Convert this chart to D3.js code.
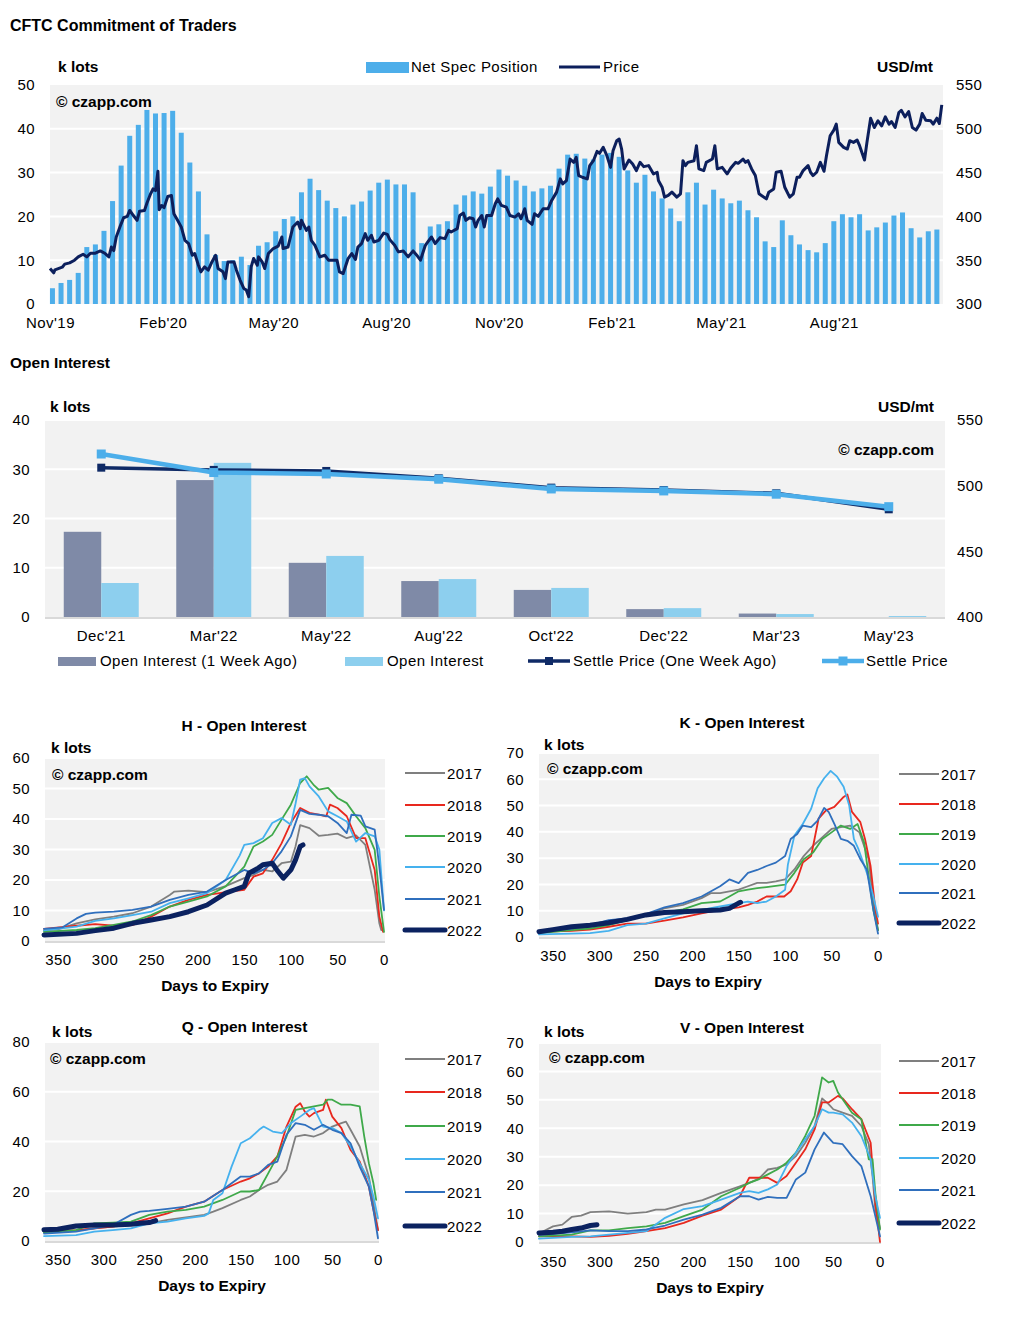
<!DOCTYPE html>
<html><head><meta charset="utf-8">
<script src="https://cdn.jsdelivr.net/npm/d3@7"></script>
<style>body{margin:0;background:#fff}svg{display:block}</style>
</head><body><svg id="c" width="1010" height="1318"></svg>
<script>
// ---------------- DATA ----------------
// Chart 1: CFTC Commitment of Traders
const netSpecStart = '2019-11-03';           // first weekly report
const netSpec = [3.6,4.8,5.5,7.1,13.0,13.6,16.7,23.5,31.6,38.4,40.9,44.3,43.5,43.6,44.1,39.1,32.3,25.7,15.9,11.2,9.8,10.0,10.8,8.9,13.3,14.1,16.6,19.4,20.0,25.5,28.6,26.0,23.6,21.9,20.0,
22.7,23.4,25.9,27.7,28.4,27.3,27.3,25.5,13.9,17.7,18.2,18.9,22.7,24.8,25.7,25.2,26.8,30.7,29.3,28.2,27.0,25.7,26.4,27.0,30.9,34.1,34.3,33.2,33.0,34.1,34.5,33.6,30.5,27.7,29.5,
25.7,24.1,21.8,18.9,25.5,27.7,22.7,26.1,24.1,23.0,23.6,21.4,19.8,14.3,13.0,19.1,15.7,13.6,12.3,11.8,13.9,18.9,20.5,19.8,20.5,16.8,17.5,18.6,20.2,20.9,17.3,15.2,16.6,17.0];
const priceStart = '2019-11-01';
// [days since priceStart, USD/mt]
const priceSeries = [[0,340.5],[3,335.6],[4,339],[10,342],[12,345.5],[16,347],[20,350],[23,353.8],[27,356.8],[30,353.8],[33,358],[37,358],[41,360.6],[45,357.6],[48,353.8],[50,365],[52,361],[54,376.5],[57,388],[60,398.5],[63,400],[65,406.8],[68,401],[71,395.5],[73,406],[77,406.8],[79,415],[82,425.8],[84,431.4],[86,429.5],[88,451.5],[89,407.6],[91,412.5],[93,410],[96,422.7],[99,423.9],[101,403],[104,395.5],[107,388],[110,372.7],[113,369],[116,355.7],[118,357.6],[121,344.3],[123,336.7],[126,342.4],[129,338.6],[132,348],[135,355.7],[137,340.5],[141,336.7],[143,329],[145,348],[150,348],[152,338.6],[155,327],[158,317.8],[160,316],[162,308.3],[164,342.4],[166,351.9],[169,344.3],[170,353.8],[173,348],[175,340.5],[178,357.6],[182,363.3],[186,366],[189,376.5],[190,363.3],[194,365],[198,387.9],[202,393.6],[204,386],[205,395.5],[209,384],[211,387.9],[213,372.7],[216,367],[220,353.8],[224,355.7],[227,350],[234,350],[236,336.7],[239,334.8],
[243,351.9],[246,357.6],[249,350.8],[251,365],[254,369],[257,380.3],[259,372.7],[262,378.4],[264,370.8],[268,372.7],[272,381],[275,379.5],[277,373.5],[281,367],[284,359.5],[288,360.6],[292,353.8],[296,360.6],[299,355.7],[302,350],[306,367],[308,370.8],[311,376.5],[314,369],[318,375.8],[322,374.6],[325,384],[327,382.2],[332,386],[334,401],[337,403.8],[339,395.5],[342,398.5],[345,397.3],[347,387.9],[349,395.5],[352,401],[354,387.9],[356,401],[360,401],[363,414.4],[365,420],[368,412.5],[372,410.6],[375,401],[379,399.2],[382,403],[384,397.3],[387,408.7],[389,395.5],[393,390.9],[395,403],[398,400],[402,408.7],[406,408.7],[409,418.2],[413,427.7],[416,442.8],[418,437.1],[421,440.9],[424,465.5],[427,461.7],[429,467.4],[431,446.6],[434,444.7],[438,442.8],[440,458],[443,463.6],[446,474.2],[448,472],[451,478.8],[454,469.3],[457,456],[459,475],[462,486.4],[464,488.3],[466,476.9],[468,454.2],[472,464.4],[475,459.8],[478,452.3],[481,461.7],[484,456.8],
[488,458],[492,448.5],[495,450.4],[496,440.9],[499,433.3],[501,422],[504,423.9],[507,427.7],[511,422],[514,425.8],[516,463.6],[518,458],[520,461.7],[525,463.6],[527,480.7],[529,454.2],[533,452.3],[535,461.7],[540,465.5],[542,480.7],[544,454.2],[548,456],[552,448.5],[555,455.3],[559,461.7],[561,460.6],[565,465.5],[567,461.7],[569,463.6],[572,454.2],[575,446.6],[578,425.8],[580,423.9],[584,420],[586,427.7],[590,431.4],[592,450.4],[596,451.5],[599,433.3],[603,422],[606,425.8],[609,444.7],[611,444.7],[614,452.3],[618,458],[620,450.4],[622,446.6],[625,450.4],[628,461.7],[631,451.5],[633,469.3],[636,492],[639,498.5],[641,505.3],[643,484.5],[647,478.8],[650,476.9],[652,486.4],[655,484.5],[658,487.1],[660,480.7],[664,464.4],[666,484.5],[669,512.1],[672,501.5],[675,509.1],[678,503.4],[681,513.6],[684,505.3],[686,508.3],[689,501.5],[692,518.6],[694,521.2],[697,513.6],[700,519.7],[703,501.5],[706,498.5],[709,505.3],[711,517.4],[714,509.8],[718,509.1],[720,505.3],[723,512.1],[725,506],[727,527.3]];
const netTicks = [0,10,20,30,40,50];
const priceTicks = [300,350,400,450,500,550];
const monthTicks = ['2019-11-01','2020-02-01','2020-05-01','2020-08-01','2020-11-01','2021-02-01','2021-05-01','2021-08-01'];

// Chart 2: Open Interest by contract
const oiContracts = ["Dec'21","Mar'22","May'22","Aug'22","Oct'22","Dec'22","Mar'23","May'23"];
const oiWeekAgo = [17.3,27.8,11.0,7.3,5.5,1.6,0.7,0];
const oiNow = [6.9,31.3,12.4,7.7,5.9,1.8,0.6,0.2];
const settleWeekAgo = [513.7,512.0,511.2,505.6,498.5,496.7,494.2,482.0];
const settleNow = [524.1,510.0,508.9,504.9,497.5,496.0,493.5,484.0];
const oiTicks = [0,10,20,30,40];
const settleTicks = [400,450,500,550];

// Small charts: [days to expiry, k lots]
const years = ['2017','2018','2019','2020','2021','2022'];
const dayTicks = [350,300,250,200,150,100,50,0];
const H2017 = [[365,3.5],[350,3.8],[330,5.8],[310,7.1],[290,8.0],[270,9.1],[250,11.3],[230,15.1],[225,16.2],[210,16.5],[190,16.0],[170,18.0],[150,20.6],[140,21.7],[130,23.3],[120,22.8],[110,25.5],[100,26.0],[95,31],[90,38],[80,37],[70,34.5],[60,34.8],[50,35.2],[40,33.7],[30,34.6],[20,31.5],[10,16.8],[5,5.8],[3,3.6]];
const H2018 = [[365,4.0],[330,5.0],[310,5.5],[290,5.0],[270,5.2],[250,8.0],[230,11.3],[210,13.5],[190,15.1],[180,15.5],[170,16.0],[150,16.8],[140,21.1],[130,22.2],[120,26.6],[110,32.0],[100,38.7],[90,43.6],[80,42.0],[70,41.4],[62,40.9],[58,44.7],[50,43.6],[40,40.9],[30,33.7],[20,33.7],[10,23.3],[5,8.0],[1,3.0]];
const H2019 = [[365,3.0],[330,3.6],[310,4.2],[290,5.3],[270,6.4],[250,8.5],[230,11.3],[210,12.9],[190,14.6],[170,17.9],[150,24.4],[140,31.0],[130,32.6],[120,34.8],[110,39.8],[100,44.7],[90,51.8],[83,54.0],[75,51.0],[70,49.6],[60,50.2],[50,46.9],[40,45.2],[30,40.9],[20,37.0],[10,29.9],[5,14.6],[0,3.0]];
const H2020 = [[365,3.5],[330,4.7],[310,6.6],[290,7.4],[270,8.5],[250,9.6],[230,12.4],[210,14.0],[190,15.7],[170,20.0],[155,28],[150,31.5],[140,32.1],[130,33.7],[120,38.7],[110,40.3],[100,38.1],[95,45],[90,52.9],[85,53.4],[80,50.7],[70,47.4],[60,42.5],[50,40.9],[40,39.2],[30,32.6],[20,35.4],[10,34.3],[5,30.0],[0,10.0]];
const H2021 = [[365,4.0],[345,4.5],[330,7.4],[320,8.9],[310,9.3],[290,9.6],[270,10.2],[250,11.3],[230,13.5],[210,15.1],[190,16.2],[170,20.0],[150,23.3],[140,22.2],[130,23.3],[120,25.5],[110,29.4],[100,34.3],[90,43.0],[80,41.7],[70,41.4],[60,40.9],[50,38.7],[40,35.4],[35,41.4],[25,41.1],[20,37.6],[10,36.5],[5,24.4],[0,10.2]];
const H2022 = [[365,2.0],[330,2.5],[310,3.4],[290,4.2],[270,5.8],[250,6.9],[230,8.0],[210,9.6],[190,11.8],[170,15.7],[160,16.8],[150,17.9],[145,22.2],[135,23.9],[130,25.0],[120,25.5],[115,23.3],[108,20.6],[100,23.3],[95,26.6],[90,31.0],[87,31.5]];

const K2017 = [[365,2.0],[330,2.6],[310,3.9],[290,5.1],[270,7.1],[250,8.4],[230,10.9],[210,12.2],[190,14.8],[180,16.7],[170,16.7],[150,18.0],[140,19.3],[130,20.6],[120,20.6],[110,21.2],[100,21.9],[90,25.7],[80,30.8],[70,34.7],[60,37.9],[50,41.1],[40,41.8],[30,42.4],[20,39.8],[10,29.6],[5,12.9],[0,2.6]];
const K2018 = [[365,2.0],[330,2.3],[310,2.8],[290,3.9],[270,5.1],[250,5.1],[230,6.2],[210,7.5],[190,9.0],[170,10.3],[150,11.3],[140,12.2],[130,13.5],[120,15.4],[110,15.4],[101,15.4],[94,17.4],[87,21.9],[81,28.3],[72,30.8],[64,45.0],[56,48.2],[47,49.5],[37,53.3],[33,54.2],[28,47.6],[19,43.7],[14,37.3],[8,27.0],[3,11.0],[0,5.1]];
const K2019 = [[365,1.5],[330,2.6],[310,3.2],[290,4.5],[270,6.4],[250,8.0],[230,9.3],[210,10.5],[190,12.9],[170,13.5],[160,15.4],[150,17.4],[140,18.0],[130,18.6],[120,19.0],[100,19.9],[90,24.4],[80,29.6],[70,32.1],[60,37.3],[50,39.8],[40,42.4],[30,41.1],[22,43.0],[15,36.0],[10,23.1],[5,10.3],[0,2.6]];
const K2020 = [[365,1.0],[330,1.3],[310,1.5],[290,2.3],[270,4.5],[250,5.1],[230,7.1],[210,9.0],[190,10.3],[170,11.6],[150,12.9],[140,13.5],[130,12.9],[120,13.5],[110,15.4],[100,18.0],[97,27.6],[90,38.6],[81,43.0],[72,48.8],[65,56.6],[58,60.4],[51,63.2],[44,61.0],[37,57.2],[31,50.0],[26,37.3],[21,33.4],[12,24.4],[5,15.4],[0,7.7]];
const K2021 = [[365,2.0],[330,3.2],[310,4.5],[290,6.4],[270,7.1],[250,8.7],[230,11.3],[210,12.9],[190,15.4],[170,19.3],[160,21.9],[150,20.5],[140,24.4],[130,25.5],[120,27.0],[110,28.3],[100,30.8],[94,37.3],[87,39.2],[81,42.4],[72,41.8],[65,44.3],[58,49.1],[53,47.5],[47,43.0],[40,37.3],[33,36.6],[26,34.7],[19,29.6],[12,25.7],[5,10.3],[0,1.3]];
const K2022 = [[365,2.0],[350,2.8],[330,3.9],[310,4.5],[290,5.4],[270,6.7],[250,8.4],[230,9.3],[210,9.6],[190,10.0],[170,10.3],[160,10.9],[150,12.9],[148,13.2]];

const Q2017 = [[365,3.5],[330,4.2],[310,5.1],[290,5.8],[270,6.4],[250,7.1],[230,8.5],[210,9.5],[190,10.5],[180,11.8],[170,13.2],[150,16.5],[140,17.9],[130,20.5],[120,22.6],[110,23.9],[100,28.6],[90,42.0],[80,42.7],[70,42.0],[60,43.4],[50,46.0],[40,47.4],[35,48.0],[30,44.7],[20,38.0],[10,25.9],[5,15.2],[0,4.4]];
const Q2018 = [[365,4.0],[330,4.4],[310,5.1],[290,5.8],[270,7.1],[250,9.1],[230,11.1],[210,13.8],[190,15.8],[170,20.5],[150,23.9],[140,25.2],[130,27.2],[120,29.9],[110,34.0],[100,46.0],[90,54.0],[85,55.4],[80,52.0],[75,50.0],[70,51.4],[60,52.7],[57,56.8],[50,50.0],[40,45.4],[30,36.6],[20,31.9],[10,21.9],[5,12.5],[0,4.4]];
const Q2019 = [[365,3.5],[330,4.4],[310,7.1],[290,7.4],[270,7.8],[250,10.5],[230,11.8],[210,12.5],[190,13.8],[170,16.5],[150,19.9],[140,19.9],[130,20.5],[120,27.2],[110,34.0],[100,42.0],[90,52.7],[80,53.4],[70,54.1],[60,54.8],[55,56.8],[50,56.8],[40,54.8],[30,54.8],[20,54.1],[15,42.0],[10,31.3],[5,23.2],[2,16.5]];
const Q2020 = [[365,2.0],[330,2.4],[310,3.8],[290,4.4],[270,5.1],[250,7.1],[230,7.8],[210,9.1],[190,10.1],[185,11.1],[180,16.5],[170,19.2],[160,29.9],[150,39.3],[140,41.3],[130,44.7],[125,46.0],[115,44.0],[105,43.4],[95,47.4],[85,50.0],[75,52.7],[70,53.4],[60,46.0],[50,45.4],[40,43.4],[30,38.0],[20,31.3],[10,24.6],[5,17.9],[0,9.1]];
const Q2021 = [[365,3.0],[330,3.8],[310,5.1],[290,6.4],[270,10.5],[260,11.8],[250,12.1],[230,12.9],[210,13.8],[190,15.8],[170,20.5],[150,25.9],[140,25.9],[130,27.2],[120,30.6],[110,31.9],[100,42.7],[90,47.4],[80,46.7],[70,44.7],[60,46.7],[50,44.7],[40,43.4],[30,39.3],[20,29.9],[10,21.9],[5,12.5],[0,1.1]];
const Q2022 = [[365,4.5],[350,4.7],[330,6.0],[310,6.4],[290,6.4],[270,6.7],[260,7.1],[250,7.4],[243,8.2]];

const V2017 = [[365,3.0],[350,5.5],[340,6.1],[330,8.8],[320,9.3],[310,10.5],[290,10.8],[270,10.0],[250,10.5],[240,11.4],[230,11.4],[210,13.2],[190,14.7],[170,17.3],[150,19.6],[140,20.8],[130,22.2],[120,25.5],[110,26.1],[100,27.3],[90,30.2],[80,34.9],[70,40.8],[62,50.5],[55,48.5],[50,46.7],[40,45.5],[30,44.4],[20,40.8],[12,34.4],[8,23.2],[5,11.4],[0,4.9]];
const V2018 = [[365,2.0],[330,2.0],[310,1.8],[290,2.2],[270,2.9],[250,3.8],[230,4.9],[210,6.7],[190,9.3],[170,11.4],[150,16.1],[140,22.6],[130,22.6],[120,22.6],[110,20.8],[100,23.2],[90,27.9],[80,32.6],[70,39.6],[62,49.1],[55,49.1],[45,51.4],[40,50.5],[30,46.7],[20,43.2],[10,34.9],[5,13.8],[0,0]];
const V2019 = [[365,2.0],[330,2.6],[310,4.1],[290,4.1],[270,4.9],[250,5.5],[230,6.7],[210,9.1],[190,11.4],[170,16.1],[150,19.1],[140,20.8],[130,22.0],[120,23.8],[110,25.5],[100,27.9],[90,31.4],[80,37.3],[70,44.4],[62,57.9],[55,56.1],[50,56.7],[45,52.6],[40,50.2],[30,45.5],[20,43.2],[12,29.1],[8,29.1],[5,17.3],[0,4.4]];
const V2020 = [[365,1.2],[330,1.8],[310,2.0],[290,2.6],[270,3.2],[250,3.8],[230,8.5],[210,11.6],[190,12.6],[170,14.9],[150,17.3],[140,17.9],[130,17.3],[120,18.5],[110,20.2],[100,26.7],[90,31.4],[80,36.1],[70,40.8],[62,46.7],[55,45.5],[50,45.5],[40,44.9],[30,42.0],[20,37.3],[10,29.1],[5,16.1],[0,8.5]];
const V2021 = [[365,2.5],[330,3.4],[310,4.1],[290,3.8],[270,3.8],[250,4.4],[230,5.8],[210,7.9],[190,9.6],[170,12.0],[150,16.1],[140,16.1],[130,14.9],[120,15.9],[110,15.5],[100,15.5],[90,22.0],[80,24.4],[70,32.6],[60,38.5],[50,34.9],[40,34.4],[30,30.2],[20,26.7],[10,16.1],[5,9.1],[0,2.0]];
const V2022 = [[365,3.2],[350,3.4],[340,3.8],[330,4.4],[320,4.9],[310,5.8],[303,6.1]];

// ---------------- DRAWING ----------------
const FONT = '"Liberation Sans", Arial, Helvetica, sans-serif';
const BG = '#f2f2f2';
const BLUE = '#4daeea';
const NAVY = '#0c1f5c';
const yearColors = ['#7f7f7f','#e8281e','#3fa94a','#45b1ee','#2f6fbd','#0b2260'];
const DAY = 864e5;
const LS = 0.45;   // letter spacing of regular text
const svg = d3.select('#c');

function label(x, y, s, o = {}) {
  return svg.append('text').attr('x', x).attr('y', y).text(s)
    .attr('font-family', FONT).attr('font-size', o.size || 15)
    .attr('font-weight', o.bold ? 'bold' : 'normal')
    .attr('letter-spacing', o.bold ? 0 : LS)
    .attr('text-anchor', o.anchor || 'start').attr('fill', '#000');
}
function styleAxis(g, size = 15) {
  g.select('.domain').remove();
  g.selectAll('.tick line').remove();
  g.selectAll('text').attr('font-family', FONT).attr('font-size', size).attr('fill', '#000').attr('letter-spacing', LS);
}
function gridLines(vals, x0, x1, y) {
  svg.append('g').selectAll('line').data(vals).join('line')
    .attr('x1', x0).attr('x2', x1).attr('y1', d => y(d)).attr('y2', d => y(d))
    .attr('stroke', '#fff').attr('stroke-width', 2);
}

// ===== Chart 1 =====
(function () {
  const d0 = Date.parse(priceStart + 'T00:00:00Z');
  const x = d3.scaleUtc().domain([new Date(d0), new Date(d0 + 728 * DAY)]).range([50, 943]);
  const y = d3.scaleLinear().domain([0, 50]).range([304, 85]);
  const yr = d3.scaleLinear().domain([300, 550]).range([304, 85]);
  svg.append('rect').attr('x', 50).attr('y', 85).attr('width', 893).attr('height', 219).attr('fill', BG);
  gridLines([10, 20, 30, 40], 50, 943, y);
  const s0 = Date.parse(netSpecStart + 'T00:00:00Z');
  svg.append('g').selectAll('rect').data(netSpec).join('rect')
    .attr('x', (d, i) => x(new Date(s0 + i * 7 * DAY)) - 2.5).attr('width', 5)
    .attr('y', d => y(d)).attr('height', d => y(0) - y(d)).attr('fill', BLUE);
  const line = d3.line().x(d => x(new Date(d0 + d[0] * DAY))).y(d => yr(d[1]));
  svg.append('path').datum(priceSeries).attr('d', line).attr('fill', 'none')
    .attr('stroke', NAVY).attr('stroke-width', 3).attr('stroke-linejoin', 'round');
  svg.append('g').attr('transform', 'translate(35,0)')
    .call(d3.axisLeft(y).tickValues(netTicks).tickSize(0).tickPadding(0)).call(styleAxis);
  svg.append('g').attr('transform', 'translate(956,0)')
    .call(d3.axisRight(yr).tickValues(priceTicks).tickSize(0).tickPadding(0)).call(styleAxis);
  svg.append('g').attr('transform', 'translate(0,304)')
    .call(d3.axisBottom(x).tickValues(monthTicks.map(s => new Date(s + 'T00:00:00Z')))
      .tickFormat(d3.utcFormat("%b'%y")).tickSize(0).tickPadding(13.5)).call(styleAxis);
  label(10, 31, 'CFTC Commitment of Traders', { bold: true, size: 16 });
  label(58, 72, 'k lots', { bold: true, size: 15.5 });
  label(933, 72, 'USD/mt', { bold: true, size: 15.5, anchor: 'end' });
  label(56, 107, '\u00a9 czapp.com', { bold: true, size: 15.5 });
  svg.append('rect').attr('x', 366).attr('y', 62).attr('width', 43).attr('height', 11).attr('fill', BLUE);
  label(411, 72, 'Net Spec Position');
  svg.append('line').attr('x1', 559).attr('x2', 600).attr('y1', 67).attr('y2', 67).attr('stroke', NAVY).attr('stroke-width', 3);
  label(603, 72, 'Price');
})();

// ===== Chart 2 =====
(function () {
  const DARKBAR = '#7f8aa7', LIGHTBAR = '#8dcfee', DARKLINE = '#0f2a66', LIGHTLINE = '#4caeea';
  const x = d3.scaleBand().domain(oiContracts).range([45, 945]);
  const y = d3.scaleLinear().domain([0, 40]).range([617, 420]);
  const yr = d3.scaleLinear().domain([400, 550]).range([617, 420]);
  const cx = d => x(d) + x.bandwidth() / 2;
  const bw = x.bandwidth() / 3;
  svg.append('rect').attr('x', 45).attr('y', 421).attr('width', 900).attr('height', 196).attr('fill', BG);
  gridLines([10, 20, 30], 45, 945, y);
  svg.append('line').attr('x1', 45).attr('x2', 945).attr('y1', 618).attr('y2', 618).attr('stroke', '#d9d9d9').attr('stroke-width', 2);
  svg.append('g').selectAll('rect').data(oiContracts).join('rect')
    .attr('x', d => cx(d) - bw).attr('width', bw)
    .attr('y', (d, i) => y(oiWeekAgo[i])).attr('height', (d, i) => y(0) - y(oiWeekAgo[i])).attr('fill', DARKBAR);
  svg.append('g').selectAll('rect').data(oiContracts).join('rect')
    .attr('x', d => cx(d)).attr('width', bw)
    .attr('y', (d, i) => y(oiNow[i])).attr('height', (d, i) => y(0) - y(oiNow[i])).attr('fill', LIGHTBAR);
  const drawLine = (vals, color, w, m) => {
    const pts = oiContracts.map((c, i) => [cx(c), yr(vals[i])]);
    svg.append('path').datum(pts).attr('d', d3.line()).attr('fill', 'none')
      .attr('stroke', color).attr('stroke-width', w).attr('stroke-linejoin', 'round');
    svg.append('g').selectAll('rect').data(pts).join('rect')
      .attr('x', d => d[0] - m / 2).attr('y', d => d[1] - m / 2).attr('width', m).attr('height', m).attr('fill', color);
  };
  drawLine(settleWeekAgo, DARKLINE, 3.5, 8);
  drawLine(settleNow, LIGHTLINE, 4.5, 9);
  svg.append('g').attr('transform', 'translate(30,0)')
    .call(d3.axisLeft(y).tickValues(oiTicks).tickSize(0).tickPadding(0)).call(styleAxis);
  svg.append('g').attr('transform', 'translate(957,0)')
    .call(d3.axisRight(yr).tickValues(settleTicks).tickSize(0).tickPadding(0)).call(styleAxis);
  svg.append('g').attr('transform', 'translate(0,617)')
    .call(d3.axisBottom(x).tickSize(0).tickPadding(13.5)).call(styleAxis);
  label(10, 368, 'Open Interest', { bold: true, size: 15.5 });
  label(50, 412, 'k lots', { bold: true, size: 15.5 });
  label(934, 412, 'USD/mt', { bold: true, size: 15.5, anchor: 'end' });
  label(934, 455, '\u00a9 czapp.com', { bold: true, size: 15.5, anchor: 'end' });
  // legend
  svg.append('rect').attr('x', 58).attr('y', 657).attr('width', 38).attr('height', 9).attr('fill', DARKBAR);
  label(100, 666, 'Open Interest (1 Week Ago)');
  svg.append('rect').attr('x', 345).attr('y', 657).attr('width', 38).attr('height', 9).attr('fill', LIGHTBAR);
  label(387, 666, 'Open Interest');
  svg.append('line').attr('x1', 528).attr('x2', 570).attr('y1', 661).attr('y2', 661).attr('stroke', DARKLINE).attr('stroke-width', 3.5);
  svg.append('rect').attr('x', 545).attr('y', 657).attr('width', 8).attr('height', 8).attr('fill', DARKLINE);
  label(573, 666, 'Settle Price (One Week Ago)');
  svg.append('line').attr('x1', 822).attr('x2', 864).attr('y1', 661).attr('y2', 661).attr('stroke', LIGHTLINE).attr('stroke-width', 4.5);
  svg.append('rect').attr('x', 838.5).attr('y', 656.5).attr('width', 9).attr('height', 9).attr('fill', LIGHTLINE);
  label(866, 666, 'Settle Price');
})();

// ===== Small charts =====
function oiChart(c) {
  const x = d3.scaleLinear().domain([365, 0]).range([c.x0, c.x1]);
  const y = d3.scaleLinear().domain([0, c.yMax]).range([c.y0, c.yTop]);
  svg.append('rect').attr('x', c.bgL).attr('y', c.yTop + 1).attr('width', c.bgR - c.bgL).attr('height', c.y0 - c.yTop - 1).attr('fill', BG);
  gridLines(c.yTicks.filter(v => v > 0 && v < c.yMax), c.bgL, c.bgR, y);
  svg.append('line').attr('x1', c.bgL).attr('x2', c.bgR).attr('y1', c.y0 + 1).attr('y2', c.y0 + 1).attr('stroke', '#d9d9d9').attr('stroke-width', 2);
  const line = d3.line().x(d => x(d[0])).y(d => y(d[1]));
  c.series.forEach((s, i) => {
    svg.append('path').datum(s).attr('d', line).attr('fill', 'none')
      .attr('stroke', yearColors[i]).attr('stroke-width', i === 5 ? 5 : 1.8)
      .attr('stroke-linejoin', 'round').attr('stroke-linecap', 'round');
  });
  svg.append('g').attr('transform', `translate(${c.axL},0)`)
    .call(d3.axisLeft(y).tickValues(c.yTicks).tickSize(0).tickPadding(0)).call(styleAxis);
  svg.append('g').attr('transform', `translate(0,${c.y0})`)
    .call(d3.axisBottom(x).tickValues(dayTicks).tickSize(0).tickPadding(c.xPad)).call(styleAxis);
  label(c.title[0], c.title[1], c.name, { bold: true, size: 15.5, anchor: 'middle' });
  label(c.klots[0], c.klots[1], 'k lots', { bold: true, size: 15.5 });
  label(c.cz[0], c.cz[1], '\u00a9 czapp.com', { bold: true, size: 15.5 });
  label(c.days[0], c.days[1], 'Days to Expiry', { bold: true, size: 15.5, anchor: 'middle' });
  years.forEach((yr, i) => {
    const ly = c.legY[i];
    svg.append('line').attr('x1', c.legX).attr('x2', c.legX + 40).attr('y1', ly).attr('y2', ly)
      .attr('stroke', yearColors[i]).attr('stroke-width', i === 5 ? 5 : 2).attr('stroke-linecap', i === 5 ? 'round' : 'butt');
    label(c.legX + 42, ly + 5.5, yr);
  });
}

oiChart({ name: 'H - Open Interest', series: [H2017, H2018, H2019, H2020, H2021, H2022],
  x0: 44, x1: 384, bgL: 45, bgR: 385, y0: 941, yTop: 758, yMax: 60, yTicks: [0,10,20,30,40,50,60], axL: 30, xPad: 13.4,
  title: [244, 731], klots: [51, 753], cz: [52, 780], days: [215, 991], legX: 405, legY: [773,805,836,867,899,930] });
oiChart({ name: 'K - Open Interest', series: [K2017, K2018, K2019, K2020, K2021, K2022],
  x0: 539, x1: 878, bgL: 539, bgR: 879, y0: 937, yTop: 753, yMax: 70, yTicks: [0,10,20,30,40,50,60,70], axL: 524, xPad: 13.4,
  title: [742, 728], klots: [544, 750], cz: [547, 774], days: [708, 987], legX: 899, legY: [774,804,834,864,893,923] });
oiChart({ name: 'Q - Open Interest', series: [Q2017, Q2018, Q2019, Q2020, Q2021, Q2022],
  x0: 44, x1: 378, bgL: 45, bgR: 379, y0: 1241, yTop: 1042, yMax: 80, yTicks: [0,20,40,60,80], axL: 30, xPad: 13.4,
  title: [244.5, 1032], klots: [52, 1037], cz: [50, 1064], days: [212, 1291], legX: 405, legY: [1059,1092,1126,1159,1192,1226] });
oiChart({ name: 'V - Open Interest', series: [V2017, V2018, V2019, V2020, V2021, V2022],
  x0: 539, x1: 880, bgL: 539, bgR: 881, y0: 1242, yTop: 1043, yMax: 70, yTicks: [0,10,20,30,40,50,60,70], axL: 524, xPad: 14.4,
  title: [742, 1033], klots: [544, 1037], cz: [549, 1063], days: [710, 1293], legX: 899, legY: [1061,1093,1125,1158,1190,1223] });
</script></body></html>
